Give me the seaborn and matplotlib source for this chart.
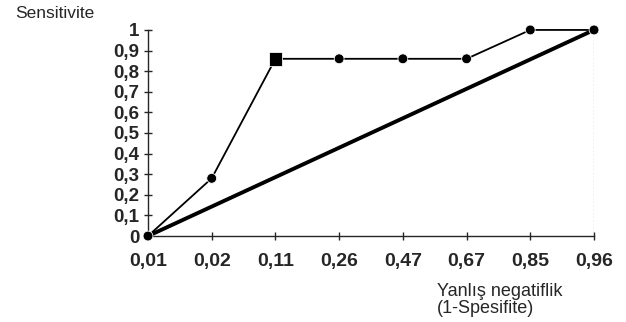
import seaborn as sns
import matplotlib.pyplot as plt
import pandas as pd

# ROC curve values
x_labels = ['0,01', '0,02', '0,11', '0,26', '0,47', '0,67', '0,85', '0,96']
sensitivity = [0.0, 0.28, 0.86, 0.86, 0.86, 0.86, 1.0, 1.0]
marker_kind = ['o', 'o', 's', 'o', 'o', 'o', 'o', 'o']
ref_line = [0.0, 1.0]
ref_pos = [0, 7]
y_ticks = [0, 0.1, 0.2, 0.3, 0.4, 0.5, 0.6, 0.7, 0.8, 0.9, 1]
y_tick_labels = ['0', '0,1', '0,2', '0,3', '0,4', '0,5', '0,6', '0,7', '0,8', '0,9', '1']

sns.set_style('ticks')
plt.rcParams['font.family'] = ['Liberation Sans', 'DejaVu Sans']

data = pd.DataFrame({
    'pos': range(len(x_labels)),
    'sens': sensitivity,
    'kind': marker_kind,
})
ref = pd.DataFrame({'pos': ref_pos, 'sens': ref_line})

fig = plt.figure(figsize=(6.26, 3.22), dpi=100)
ax = fig.add_axes([0.2364, 0.267, 0.7125, 0.64])

sns.lineplot(x='pos', y='sens', data=ref, ax=ax, color='black', linewidth=2.8)
sns.lineplot(x='pos', y='sens', data=data, ax=ax, color='black', linewidth=1.3)
sns.scatterplot(
    x='pos', y='sens', data=data, ax=ax, style='kind',
    markers={'o': 'o', 's': 's'}, hue='kind', palette={'o': 'black', 's': 'black'},
    size='kind', sizes={'o': 50, 's': 95}, legend=False, zorder=5,
)
for coll in ax.collections:
    coll.set_clip_on(False)
for line in ax.lines:
    line.set_clip_on(False)

# faint dotted right border
ax.axvline(7, color='#aaaaaa', linestyle=':', linewidth=1)

ax.set_xlim(0, 7)
ax.set_ylim(0, 1)
ax.set_xticks(range(len(x_labels)))
ax.set_xticklabels(x_labels, fontsize=14, fontweight='bold')
ax.set_yticks(y_ticks)
ax.set_yticklabels(y_tick_labels, fontsize=13.5, fontweight='bold')
ax.tick_params(direction='inout', length=6, width=1)
ax.tick_params(axis='x', pad=9)
ax.tick_params(axis='y', pad=3)
ax.set_xlabel('')
ax.set_ylabel('')
sns.despine(ax=ax)
ax.spines['left'].set_linewidth(1)
ax.spines['bottom'].set_linewidth(1)

fig.text(0.024, 0.957, 'Sensitivite', fontsize=12.5, ha='left', va='center')
fig.text(0.698, 0.068, 'Yanlış negatiflik\n(1-Spesifite)', fontsize=13,
         ha='left', va='center', linespacing=1.0)

fig.savefig('out.png', dpi=100)
